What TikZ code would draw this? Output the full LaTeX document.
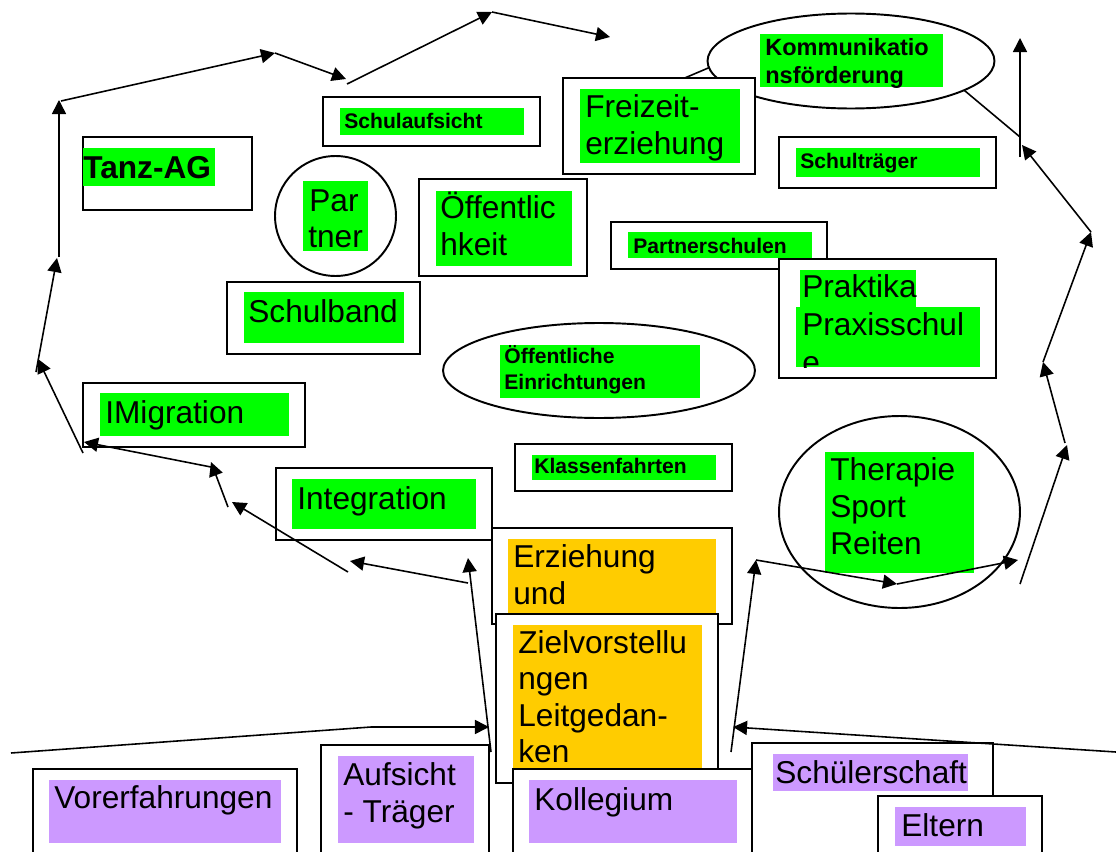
\documentclass[tikz,border=0pt]{standalone}
\usepackage{fontspec}
\setmainfont{Liberation Sans}
\usetikzlibrary{arrows.meta,fit,shapes.geometric}
\definecolor{hlgreen}{RGB}{0,255,0}
\definecolor{hlyellow}{RGB}{255,204,0}
\definecolor{hlpurple}{RGB}{204,153,255}
\begin{document}
\begin{tikzpicture}[x=0.02cm,y=-0.02cm,
  box/.style={draw, fill=white, line width=1.1pt, inner sep=0pt},
  oval/.style={draw, fill=white, ellipse, line width=1.1pt, inner sep=0pt},
  hl/.style={fill=#1, draw=none, inner sep=0pt},
  big/.style={anchor=base west, inner sep=0pt, font=\fontsize{18pt}{21pt}\selectfont},
  bigb/.style={anchor=base west, inner sep=0pt, font=\fontsize{18pt}{21pt}\selectfont\bfseries},
  small/.style={anchor=base west, inner sep=0pt, font=\fontsize{12pt}{15pt}\selectfont\bfseries},
  smallb/.style={anchor=base west, inner sep=0pt, font=\fontsize{13.4pt}{15pt}\selectfont\bfseries},
  arr/.style={line width=0.9pt, -{Triangle[length=8pt,width=8pt]}},
  ln/.style={line width=0.9pt}]
\useasboundingbox (0,0) rectangle (1116,852);
\clip (0,0) rectangle (1116,852);
\fill[white] (0,0) rectangle (1116,852);

% coordinates
\coordinate (u1) at (680,80); \coordinate (u2) at (720,63);
\coordinate (u3) at (940,70); \coordinate (u4) at (1020,137);
\coordinate (a1) at (83,453); \coordinate (a2) at (38,359);
\coordinate (a3) at (36,372); \coordinate (a4) at (57,258);
\coordinate (a5) at (59,257); \coordinate (a6) at (59,100);
\coordinate (a7) at (61,101); \coordinate (a8) at (275,53);
\coordinate (a9) at (346,79); \coordinate (a10) at (347,84);
\coordinate (a11) at (492,12); \coordinate (a12) at (610,37);
\coordinate (r1) at (1020,157); \coordinate (r2) at (1020,38);
\coordinate (r3) at (1091,232); \coordinate (r4) at (1022,145);
\coordinate (r5) at (1043,362); \coordinate (r6) at (1065,443);
\coordinate (r7) at (1067,445); \coordinate (r8) at (1020,584);
\coordinate (r9) at (1018,560); \coordinate (r10) at (897,584);
\coordinate (r11) at (756,560); \coordinate (r13) at (731,752);
\coordinate (b1) at (1116,752); \coordinate (b2) at (733,727);
\coordinate (b3) at (11,753); \coordinate (b4) at (371,727);
\coordinate (b5) at (489,727); \coordinate (b6) at (491,752);
\coordinate (b7) at (468,558); \coordinate (b8) at (468,583);
\coordinate (b9) at (350,561); \coordinate (b10) at (348,572);
\coordinate (b11) at (232,502); \coordinate (b12) at (228,507);
\coordinate (b13) at (211,462); \coordinate (b14) at (216,468);
\coordinate (b15) at (84,442);

% lines lying under shapes
\draw[ln] (u1) -- (u2);
\draw[ln] (u3) -- (u4);

% Kommunikationsfoerderung
\node[oval, minimum width=5.74cm, minimum height=1.9cm] (komm) at (851,61) {};
\node[hl=hlgreen, fit={(760,34) (943,87)}] (komm-hl) {};
\begin{scope}
\clip (755,30) rectangle (950,87);
\node[smallb] (komm-t1) at (765,55) {Kommunikatio};
\node[smallb] (komm-t2) at (765,83) {nsförderung};
\end{scope}

% Tanz-AG
\node[box, fit={(83,137) (252,210)}] (tanz) {};
\node[hl=hlgreen, fit={(83,148) (215,186)}] (tanz-hl) {};
\node[bigb] (tanz-t) at (83,178) {Tanz-AG};

% Schulaufsicht
\node[box, fit={(323,97) (540,146)}] (aufs) {};
\node[hl=hlgreen, fit={(340,108) (524,135)}] (aufs-hl) {};
\node[small] (aufs-t) at (344,128) {Schulaufsicht};

% Partner
\node[oval, minimum width=2.42cm, minimum height=2.4cm] (partner) at (335.5,216) {};
\node[hl=hlgreen, fit={(303,181) (368,251)}] (partner-hl) {};
\node[big] (partner-t1) at (309,211) {Par};
\node[big] (partner-t2) at (308,247) {tner};

% Oeffentlichkeit
\node[box, fit={(419,179) (587,276)}] (oeff) {};
\node[hl=hlgreen, fit={(436,191) (572,266)}] (oeff-hl) {};
\node[big] (oeff-t1) at (440,218) {Öffentlic};
\node[big] (oeff-t2) at (440,255) {hkeit};

% Freizeiterziehung
\node[box, fit={(563,78) (755,174)}] (frei) {};
\node[hl=hlgreen, fit={(580,89) (740,163)}] (frei-hl) {};
\node[big] (frei-t1) at (585,117) {Freizeit-};
\node[big] (frei-t2) at (585,154) {erziehung};

% Schultraeger
\node[box, fit={(779,137) (996,188)}] (traeger) {};
\node[hl=hlgreen, fit={(796,148) (980,177)}] (traeger-hl) {};
\node[small] (traeger-t) at (800,168) {Schulträger};

% Partnerschulen
\node[box, fit={(611,222) (827,269)}] (pschul) {};
\node[hl=hlgreen, fit={(628,232) (812,258)}] (pschul-hl) {};
\node[small] (pschul-t) at (633,253) {Partnerschulen};

% Praktika
\node[box, fit={(779,259) (996,378)}] (prak) {};
\node[hl=hlgreen, fit={(800,270) (916,307)}] (prak-hl1) {};
\node[hl=hlgreen, fit={(796,307) (980,367)}] (prak-hl2) {};
\begin{scope}
\clip (790,262) rectangle (990,367);
\node[big] (prak-t1) at (802,297) {Praktika};
\node[big] (prak-t2) at (802,335) {Praxisschul};
\node[big] (prak-t3) at (802,373) {e};
\end{scope}

% Schulband
\node[box, fit={(227,282) (420,354)}] (band) {};
\node[hl=hlgreen, fit={(244,292) (404,343)}] (band-hl) {};
\node[big] (band-t) at (248,322) {Schulband};

% Oeffentliche Einrichtungen
\node[oval, minimum width=6.24cm, minimum height=1.9cm] (einr) at (599,370.5) {};
\node[hl=hlgreen, fit={(500,345) (700,398)}] (einr-hl) {};
\node[small] (einr-t1) at (504,363) {Öffentliche};
\node[small] (einr-t2) at (504,389) {Einrichtungen};

% IMigration
\node[box, fit={(83,383) (305,447)}] (imig) {};
\node[hl=hlgreen, fit={(100,393) (289,436)}] (imig-hl) {};
\node[big] (imig-t) at (105,423) {IMigration};

% Klassenfahrten
\node[box, fit={(515,444) (732,491)}] (klass) {};
\node[hl=hlgreen, fit={(532,455) (716,480)}] (klass-hl) {};
\node[small] (klass-t) at (534,473) {Klassenfahrten};

% Integration
\node[box, fit={(276,468) (492,540)}] (integ) {};
\node[hl=hlgreen, fit={(292,479) (476,529)}] (integ-hl) {};
\node[big] (integ-t) at (297,509) {Integration};

% Therapie
\node[oval, minimum width=4.82cm, minimum height=3.84cm] (ther) at (899.5,512) {};
\node[hl=hlgreen, fit={(825,452) (974,573)}] (ther-hl) {};
\node[big] (ther-t1) at (830,480) {Therapie};
\node[big] (ther-t2) at (830,517) {Sport};
\node[big] (ther-t3) at (830,554) {Reiten};

% Erziehung und
\node[box, fit={(492,528) (732,624)}] (erz) {};
\node[hl=hlyellow, fit={(508,539) (716,624)}] (erz-hl) {};
\node[big] (erz-t1) at (513,567) {Erziehung};
\node[big] (erz-t2) at (513,604) {und};

% Zielvorstellungen
\node[box, fit={(496,614) (718,783)}] (ziel) {};
\node[hl=hlyellow, fit={(513,625) (702,768)}] (ziel-hl) {};
\node[big] (ziel-t1) at (518,653) {Zielvorstellu};
\node[big] (ziel-t2) at (518,689) {ngen};
\node[big] (ziel-t3) at (518,726) {Leitgedan-};
\node[big] (ziel-t4) at (518,762) {ken};

% bottom row
\node[box, fit={(33,769) (297,880)}] (vor) {};
\node[hl=hlpurple, fit={(49,780) (281,843)}] (vor-hl) {};
\node[big] (vor-t) at (54,808) {Vorerfahrungen};

\node[box, fit={(321,745) (489,880)}] (auft) {};
\node[hl=hlpurple, fit={(338,756) (474,843)}] (auft-hl) {};
\node[big] (auft-t1) at (343,785) {Aufsicht};
\node[big] (auft-t2) at (343,822) {- Träger};

\node[box, fit={(513,769) (752,880)}] (koll) {};
\node[hl=hlpurple, fit={(529,780) (737,843)}] (koll-hl) {};
\node[big] (koll-t) at (534,810) {Kollegium};

\node[box, fit={(752,743) (993,880)}] (schue) {};
\node[hl=hlpurple, fit={(773,754) (968,791)}] (schue-hl) {};
\node[big] (schue-t) at (775,783) {Schülerschaft};

\node[box, fit={(878,796) (1042,880)}] (elt) {};
\node[hl=hlpurple, fit={(895,807) (1026,846)}] (elt-hl) {};
\node[big] (elt-t) at (901,836) {Eltern};

% arrows
\draw[arr] (a1) -- (a2);
\draw[arr] (a3) -- (a4);
\draw[arr] (a5) -- (a6);
\draw[arr] (a7) -- (a8);
\draw[arr] (a8) -- (a9);
\draw[arr] (a10) -- (a11);
\draw[arr] (a11) -- (a12);
\draw[arr] (r1) -- (r2);
\draw[arr] (r3) -- (r4);
\draw[arr] (r5) -- (r3);
\draw[arr] (r6) -- (r5);
\draw[arr] (r8) -- (r7);
\draw[arr] (r10) -- (r9);
\draw[arr] (r11) -- (r10);
\draw[arr] (r13) -- (r11);
\draw[arr] (b1) -- (b2);
\draw[arr] (b3) -- (b4) -- (b5);
\draw[arr] (b6) -- (b7);
\draw[arr] (b8) -- (b9);
\draw[arr] (b10) -- (b11);
\draw[arr] (b12) -- (b13);
\draw[arr] (b14) -- (b15);
\end{tikzpicture}
\end{document}
